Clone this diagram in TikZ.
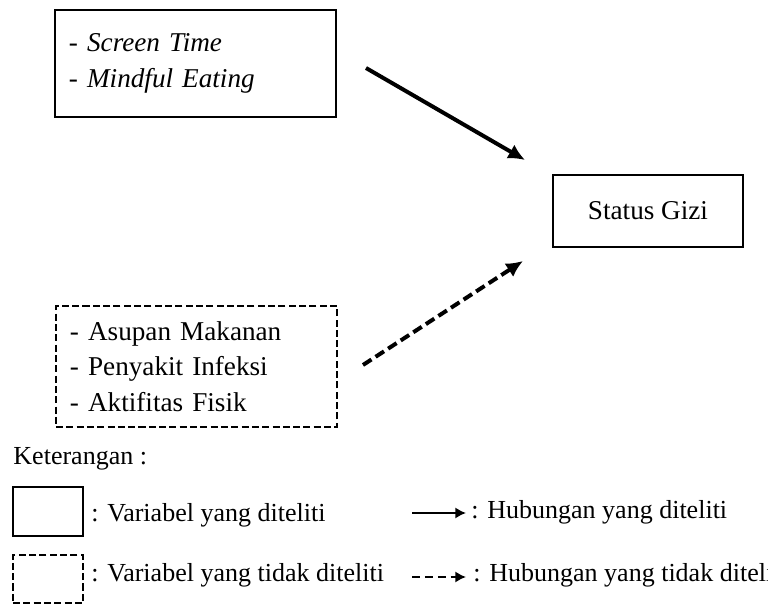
\documentclass[tikz,border=0pt]{standalone}
\usepackage{fontspec}
\setmainfont{Liberation Serif}
\usetikzlibrary{arrows.meta}
\begin{document}
\begin{tikzpicture}[x=0.015cm, y=-0.015cm,
  every node/.style={font=\fontsize{11.6}{15.2}\selectfont},
  varbox/.style={draw, line width=1.2pt, align=left, inner xsep=0.21cm, text width=3.795cm, minimum width=4.215cm},
  putus/.style={dash pattern=on 3pt off 1.4pt},
  panah/.style={line width=1.7pt, -{Latex[length=0.25cm, width=0.24cm]}},
  panahkecil/.style={line width=0.9pt, -{Latex[length=0.16cm, width=0.17cm]}},
  ket/.style={anchor=base west, inner sep=0pt, font=\fontsize{11.1}{13}\selectfont}]
\clip (0,0) rectangle (768,605);
\node[varbox, minimum height=1.605cm] (teliti) at (195.5,63.5){- \textit{Screen Time}\\- \textit{Mindful Eating}};
\node[varbox, putus, minimum height=1.815cm] (tidakteliti) at (196.5,366.5){- Asupan Makanan\\- Penyakit Infeksi\\- Aktifitas Fisik};
\node[draw, line width=1.2pt, minimum width=2.85cm, minimum height=1.08cm] (gizi) at (648,211){Status Gizi};
\coordinate (a1) at (366,68);
\coordinate (b1) at (525,160);
\coordinate (a2) at (363,365);
\coordinate (b2) at (523,261);
\draw[panah](a1) -- (b1);
\draw[panah, dash pattern=on 4.3pt off 2.1pt](a2) -- (b2);
\node[ket] (keterangan) at (13,465){Keterangan :};
\node[draw, line width=1.2pt, minimum width=1.05cm, minimum height=0.735cm] (kotak1) at (48,511.5){};
\node[draw, line width=1.2pt, putus, minimum width=1.05cm, minimum height=0.72cm] (kotak2) at (48,579){};
\node[ket] (ket1) at (91,522){: Variabel yang diteliti};
\node[ket] (ket2) at (91,582){: Variabel yang tidak diteliti};
\coordinate (p1) at (412,513);
\coordinate (q1) at (466,513);
\coordinate (p2) at (412,577);
\coordinate (q2) at (466,577);
\draw[panahkecil](p1) -- (q1);
\draw[panahkecil, dash pattern=on 3.4pt off 2.1pt](p2) -- (q2);
\node[ket] (ket3) at (471,519){: Hubungan yang diteliti};
\node[ket] (ket4) at (473,582){: Hubungan yang tidak diteliti};
\end{tikzpicture}
\end{document}
